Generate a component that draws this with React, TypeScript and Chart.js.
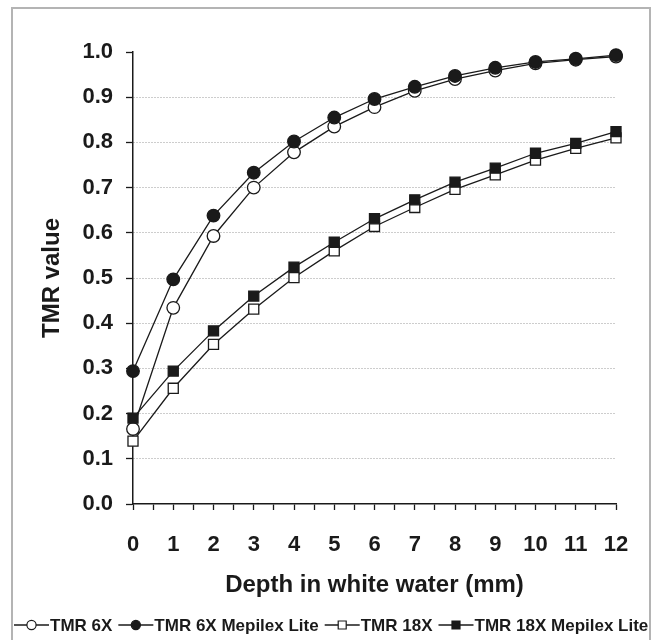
import React, { useEffect, useRef } from 'react';
import { Chart, registerables } from 'chart.js';

Chart.register(...registerables);

const depths = [0, 1, 2, 3, 4, 5, 6, 7, 8, 9, 10, 11, 12];
const tmr6x = [0.166, 0.434, 0.593, 0.700, 0.778, 0.835, 0.878, 0.914, 0.940, 0.959, 0.975, 0.983, 0.990];
const tmr6xMepilex = [0.294, 0.497, 0.638, 0.733, 0.802, 0.855, 0.896, 0.923, 0.947, 0.965, 0.978, 0.985, 0.993];
const tmr18x = [0.139, 0.256, 0.353, 0.431, 0.501, 0.560, 0.614, 0.656, 0.696, 0.728, 0.761, 0.787, 0.810];
const tmr18xMepilex = [0.190, 0.294, 0.383, 0.460, 0.524, 0.579, 0.631, 0.673, 0.712, 0.743, 0.776, 0.798, 0.824];
const seriesLabels = ['TMR 6X', 'TMR 6X Mepilex Lite', 'TMR 18X', 'TMR 18X Mepilex Lite'];
const xTitle = 'Depth in white water (mm)';
const yTitle = 'TMR value';

const INK = '#1a1a1a';
const FONT = '"Liberation Sans", Arial, sans-serif';

const toPoints = (vals: number[]) => depths.map((d, i) => ({ x: d, y: vals[i] }));

const framePlugin = {
  id: 'frame',
  beforeDraw(chart: any) {
    const ctx = chart.ctx;
    ctx.save();
    ctx.fillStyle = '#ffffff';
    ctx.fillRect(0, 0, chart.width, chart.height);
    ctx.strokeStyle = '#b4b4b4';
    ctx.lineWidth = 2;
    ctx.beginPath();
    ctx.moveTo(12, chart.height);
    ctx.lineTo(12, 8);
    ctx.lineTo(650, 8);
    ctx.lineTo(650, chart.height);
    ctx.stroke();
    ctx.restore();
  },
};

const legendPlugin = {
  id: 'customLegend',
  afterDraw(chart: any) {
    const ctx = chart.ctx;
    ctx.save();
    ctx.font = `bold 17px ${FONT}`;
    ctx.textBaseline = 'middle';
    ctx.textAlign = 'left';
    const y = 625;
    let x = 14;
    const segLen = 35;
    const gap = 6;
    chart.data.datasets.forEach((ds: any) => {
      ctx.strokeStyle = INK;
      ctx.lineWidth = 1.3;
      ctx.beginPath();
      ctx.moveTo(x, y);
      ctx.lineTo(x + segLen, y);
      ctx.stroke();
      const cx = x + segLen / 2;
      ctx.fillStyle = ds.pointBackgroundColor;
      ctx.strokeStyle = INK;
      ctx.lineWidth = 1.2;
      ctx.beginPath();
      if (ds.pointStyle === 'circle') {
        ctx.arc(cx, y, 4.6, 0, Math.PI * 2);
      } else {
        ctx.rect(cx - 4, y - 4, 8, 8);
      }
      ctx.fill();
      ctx.stroke();
      ctx.fillStyle = INK;
      ctx.fillText(ds.label, x + segLen + 1, y + 1);
      x += segLen + 1 + ctx.measureText(ds.label).width + gap;
    });
    ctx.restore();
  },
};

export default function App() {
  const ref = useRef<HTMLCanvasElement | null>(null);

  useEffect(() => {
    document.body.style.margin = '0';
    const canvas = ref.current;
    if (!canvas) return;
    const mk = (i: number, vals: number[], filled: boolean, style: string, order: number) => ({
      label: seriesLabels[i],
      data: toPoints(vals),
      borderColor: INK,
      borderWidth: 1.3,
      pointStyle: style,
      pointRadius: style === 'circle' ? 6.3 : 7.1,
      pointBackgroundColor: filled ? INK : '#ffffff',
      pointBorderColor: INK,
      pointBorderWidth: 1.3,
      fill: false,
      tension: 0,
      clip: false,
      order,
    });
    const chart = new Chart(canvas, {
      type: 'line',
      data: {
        datasets: [
          mk(0, tmr6x, false, 'circle', 1),
          mk(1, tmr6xMepilex, true, 'circle', 0),
          mk(2, tmr18x, false, 'rect', 1),
          mk(3, tmr18xMepilex, true, 'rect', 0),
        ],
      },
      options: {
        responsive: false,
        animation: false,
        devicePixelRatio: 1,
        layout: { padding: { left: 0, top: 52, right: 43, bottom: 40 } },
        plugins: {
          legend: { display: false },
          tooltip: { enabled: false },
        },
        scales: {
          x: {
            type: 'linear',
            min: 0,
            max: 12,
            afterFit: (s: any) => { s.height = 96; },
            ticks: {
              stepSize: 0.5,
              autoSkip: false,
              maxRotation: 0,
              padding: 22,
              color: INK,
              font: { family: FONT, size: 22, weight: 'bold' },
              callback: (v: any) => (Number(v) % 1 === 0 ? String(v) : ''),
            },
            grid: {
              drawOnChartArea: false,
              drawTicks: true,
              tickLength: 6,
              tickColor: INK,
              tickWidth: 1.3,
            },
            border: { display: true, color: INK, width: 1.5 },
            title: {
              display: true,
              text: xTitle,
              color: INK,
              font: { family: FONT, size: 24, weight: 'bold' },
              padding: { top: 0, bottom: 0 },
            },
          },
          y: {
            type: 'linear',
            min: 0,
            max: 1,
            afterFit: (s: any) => { s.width = 133; },
            ticks: {
              stepSize: 0.1,
              padding: 13,
              color: INK,
              font: { family: FONT, size: 22, weight: 'bold' },
              callback: (v: any) => Number(v).toFixed(1),
            },
            grid: {
              drawOnChartArea: true,
              drawTicks: true,
              tickLength: 7,
              tickColor: INK,
              tickWidth: 1.3,
              lineWidth: 1,
              color: (c: any) => {
                const v = c.tick ? Math.round(c.tick.value * 10) : -1;
                return v === 0 || v === 10 ? 'rgba(0,0,0,0)' : '#9a9a9a';
              },
            },
            border: { display: true, color: INK, width: 1.5, dash: [1, 2] },
            title: {
              display: true,
              text: yTitle,
              color: INK,
              font: { family: FONT, size: 24, weight: 'bold' },
              padding: { top: 38, bottom: 0 },
            },
          },
        },
      },
      plugins: [framePlugin, legendPlugin],
    } as any);
    return () => chart.destroy();
  }, []);

  return <canvas ref={ref} width={659} height={640} style={{ display: 'block', width: 659, height: 640 }} />;
}
